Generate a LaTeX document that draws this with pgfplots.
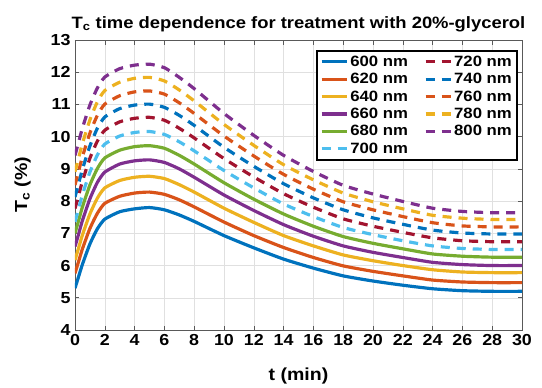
\documentclass[border=0pt]{standalone}
\usepackage{pgfplots}
\usepackage{pgfplotstable}
\pgfplotsset{compat=1.18}
\usepackage{fontspec}
\setmainfont{Liberation Sans}[FakeStretch=1.12]
\definecolor{mblue}{rgb}{0,0.447,0.741}
\definecolor{morange}{rgb}{0.85,0.325,0.098}
\definecolor{myellow}{rgb}{0.929,0.694,0.125}
\definecolor{mpurple}{rgb}{0.494,0.184,0.556}
\definecolor{mgreen}{rgb}{0.466,0.674,0.188}
\definecolor{mcyan}{rgb}{0.301,0.745,0.933}
\definecolor{mred}{rgb}{0.635,0.078,0.184}
\pgfplotstableread{
t     w600 w620 w640 w660 w680 w700  w720  w740  w760  w780  w800
0     5.30 5.76 6.17 6.59 7.00 7.36  7.77  8.13  8.50  8.91  9.42
0.25  5.67 6.14 6.56 6.99 7.41 7.78  8.19  8.56  8.94  9.35  9.84
0.5   6.04 6.52 6.95 7.40 7.82 8.20  8.62  8.99  9.38  9.79  10.27
1     6.67 7.15 7.60 8.07 8.50 8.90  9.33  9.71  10.11 10.52 10.98
1.5   7.14 7.62 8.09 8.58 9.01 9.43  9.86  10.26 10.66 11.08 11.51
2     7.44 7.93 8.41 8.90 9.34 9.77  10.20 10.61 11.01 11.43 11.85
3     7.67 8.15 8.64 9.15 9.58 10.02 10.46 10.87 11.27 11.69 12.11
4     7.76 8.25 8.74 9.25 9.69 10.13 10.57 10.98 11.39 11.81 12.22
5     7.80 8.28 8.77 9.28 9.72 10.16 10.60 11.01 11.42 11.84 12.25
6     7.73 8.21 8.70 9.20 9.64 10.07 10.51 10.91 11.32 11.73 12.14
7     7.57 8.04 8.51 9.00 9.42 9.84  10.26 10.66 11.05 11.45 11.84
8     7.37 7.82 8.28 8.74 9.15 9.56  9.96  10.35 10.72 11.11 11.49
10    6.93 7.35 7.78 8.19 8.57 8.95  9.32  9.67  10.02 10.38 10.72
12    6.55 6.93 7.34 7.71 8.06 8.41  8.75  9.08  9.40  9.73  10.04
14    6.20 6.56 6.93 7.27 7.60 7.91  8.23  8.54  8.83  9.13  9.42
16    5.92 6.25 6.61 6.91 7.22 7.52  7.81  8.10  8.37  8.66  8.92
18    5.68 5.99 6.33 6.61 6.90 7.18  7.45  7.73  7.98  8.25  8.49
20    5.52 5.82 6.15 6.41 6.69 6.96  7.22  7.48  7.73  7.98  8.22
22    5.39 5.68 6.00 6.25 6.52 6.77  7.03  7.28  7.52  7.76  7.99
24    5.28 5.55 5.87 6.10 6.36 6.61  6.86  7.10  7.33  7.56  7.78
26    5.22 5.49 5.80 6.03 6.29 6.53  6.77  7.01  7.23  7.47  7.68
28    5.20 5.47 5.78 6.00 6.26 6.50  6.74  6.98  7.20  7.43  7.64
30    5.20 5.47 5.78 6.00 6.26 6.50  6.74  6.98  7.20  7.43  7.64
}\data
\begin{document}
\begin{tikzpicture}
\path (-75bp,-58bp) rectangle (467bp,330bp);
\begin{axis}[
  at={(0,0)}, anchor=south west,
  scale only axis, width=447bp, height=290bp,
  xmin=0, xmax=30, ymin=4, ymax=13,
  xtick={0,2,...,30}, ytick={4,5,...,13},
  grid=major, major grid style={black!12, line width=0.5pt},
  tick align=inside, tick pos=both,
  major tick length=4.5bp,
  axis line style={draw=black!65, line width=0.8pt},
  every tick/.style={black!65, line width=0.6pt},
  /pgf/number format/assume math mode=true,
  ticklabel style={font=\fontsize{16}{16}\selectfont\bfseries},
  yticklabel style={xshift=-1bp},
  xticklabel style={yshift=-1bp},
  xlabel={t (min)}, ylabel={T\textsubscript{c} (\%)},
  label style={font=\fontsize{17.5}{18}\selectfont\bfseries},
  xlabel style={yshift=-15bp},
  ylabel style={yshift=13bp},
  title={T\textsubscript{c} time dependence for treatment with 20\%-glycerol},
  title style={font=\fontsize{16.5}{17}\selectfont\bfseries, yshift=-1bp},
  legend style={at={(0.99,0.965)}, anchor=north east, draw=black, line width=1.4pt,
    font=\fontsize{15}{15}\selectfont\bfseries, inner sep=3bp, row sep=1.5bp,
    /tikz/every even column/.append style={column sep=14bp}},
  legend columns=2, legend cell align=left,
  legend image code/.code={\draw[#1] (0bp,0bp) -- (25bp,0bp);},
  every axis plot/.append style={line width=3.2pt, smooth, tension=0.35},
  dashstyle/.style={dash pattern=on 9bp off 7bp},
]
\addplot[mblue] table[x=t,y=w600]{\data}; \addlegendentry{600 nm}
\addplot[mred,dashstyle] table[x=t,y=w720]{\data}; \addlegendentry{720 nm}
\addplot[morange] table[x=t,y=w620]{\data}; \addlegendentry{620 nm}
\addplot[mblue,dashstyle] table[x=t,y=w740]{\data}; \addlegendentry{740 nm}
\addplot[myellow] table[x=t,y=w640]{\data}; \addlegendentry{640 nm}
\addplot[morange,dashstyle] table[x=t,y=w760]{\data}; \addlegendentry{760 nm}
\addplot[mpurple] table[x=t,y=w660]{\data}; \addlegendentry{660 nm}
\addplot[myellow,dashstyle] table[x=t,y=w780]{\data}; \addlegendentry{780 nm}
\addplot[mgreen] table[x=t,y=w680]{\data}; \addlegendentry{680 nm}
\addplot[mpurple,dashstyle] table[x=t,y=w800]{\data}; \addlegendentry{800 nm}
\addplot[mcyan,dashstyle] table[x=t,y=w700]{\data}; \addlegendentry{700 nm}
\end{axis}
\end{tikzpicture}
\end{document}
